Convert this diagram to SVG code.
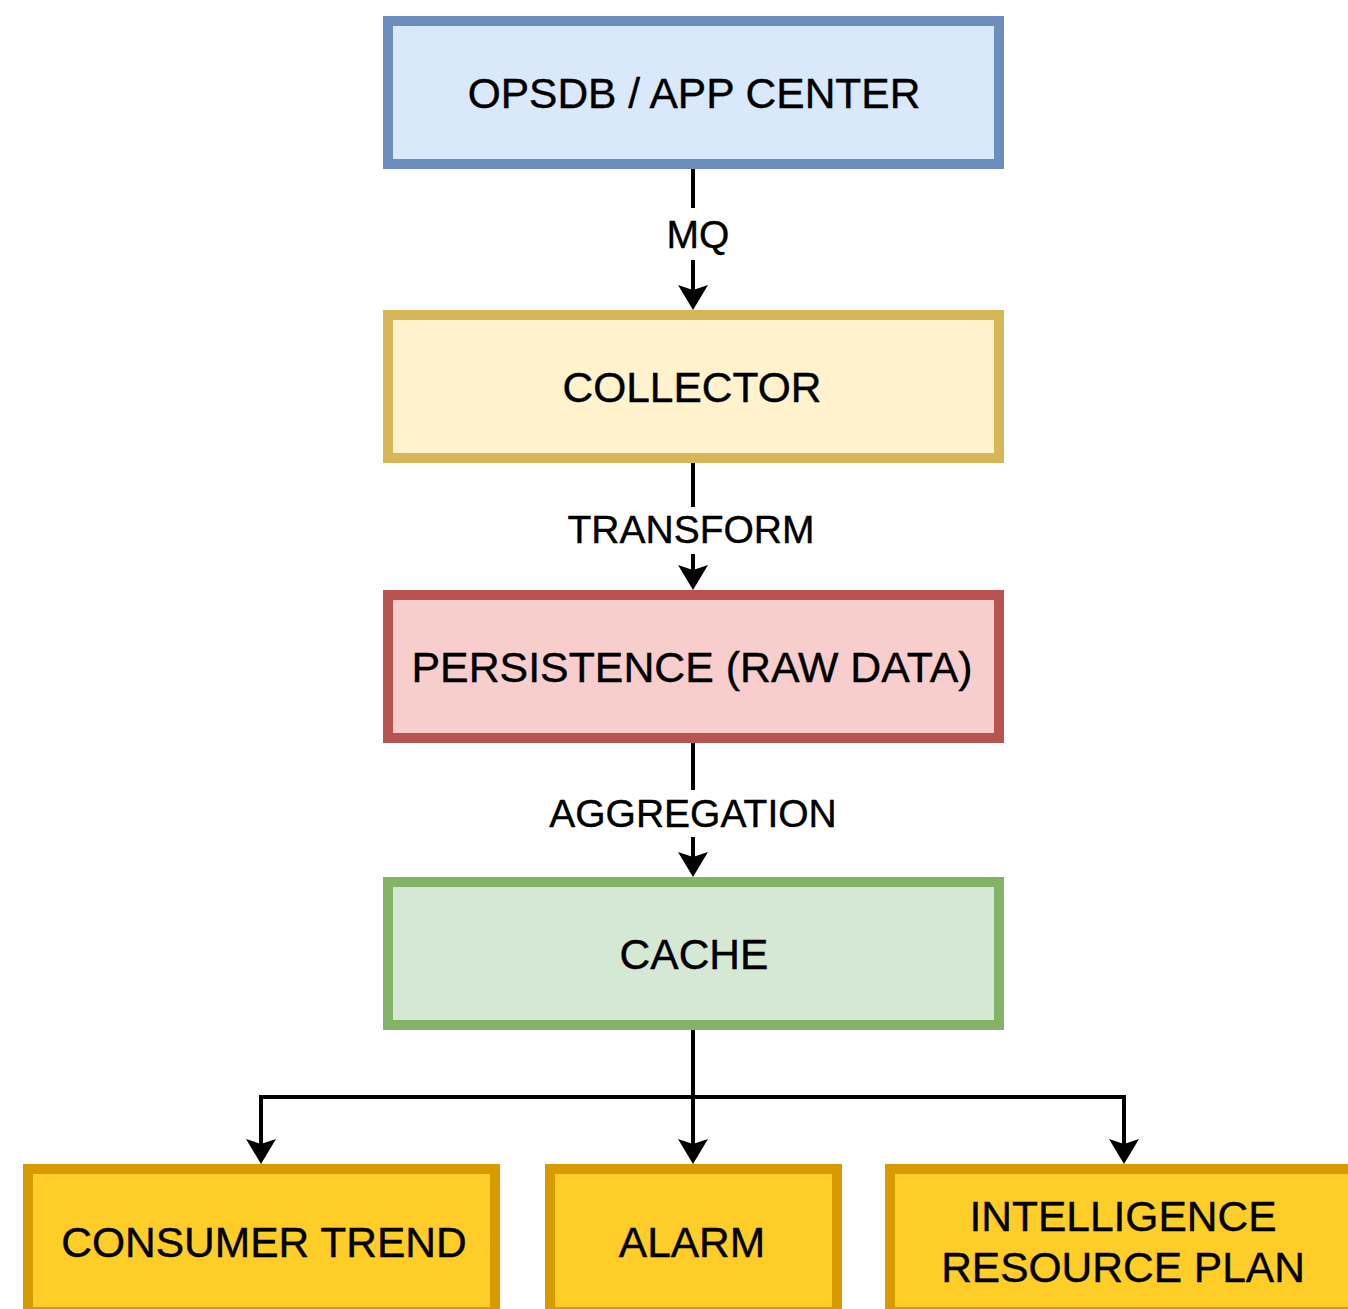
<svg xmlns="http://www.w3.org/2000/svg" width="1348" height="1309" viewBox="0 0 1348 1309">
  <style>
    .box { stroke-width: 10; }
    .blue { fill: #dae8fc; stroke: #6c8ebf; }
    .yellow { fill: #fff2cc; stroke: #d6b656; }
    .red { fill: #f8cecc; stroke: #b85450; }
    .green { fill: #d5e8d4; stroke: #82b366; }
    .orange { fill: #ffcd28; stroke: #d79b00; }
    .label { font-family: "Liberation Sans", Arial, sans-serif; font-size: 42.5px; fill: #000; stroke: #000; stroke-width: 0.4; text-anchor: middle; }
    .edge-label { font-family: "Liberation Sans", Arial, sans-serif; font-size: 39px; fill: #000; stroke: #000; stroke-width: 0.4; text-anchor: middle; }
    .wire { fill: none; stroke: #000; stroke-width: 4; }
    .tag-bg { fill: #fff; }
  </style>
  <defs>
    <marker id="arrow" viewBox="0 0 25 30" refX="5" refY="15" markerWidth="25" markerHeight="30" markerUnits="userSpaceOnUse" orient="auto">
      <path d="M0,0 L25,15 L0,30 L5,15 Z" fill="#000"/>
    </marker>
  </defs>

  <rect width="1348" height="1309" fill="#fff"/>

  <!-- connectors -->
  <g id="connectors">
    <path class="wire" d="M693,169 V290" marker-end="url(#arrow)"/>
    <path class="wire" d="M693,463 V570" marker-end="url(#arrow)"/>
    <path class="wire" d="M693,743 V857" marker-end="url(#arrow)"/>
    <path class="wire" d="M693,1030 V1144" marker-end="url(#arrow)"/>
    <path class="wire" d="M693,1097 H261 V1144" marker-end="url(#arrow)"/>
    <path class="wire" d="M693,1097 H1124 V1144" marker-end="url(#arrow)"/>

    <rect class="tag-bg" x="664" y="208" width="70" height="52"/>
    <text class="edge-label" x="698" y="248">MQ</text>

    <rect class="tag-bg" x="564" y="507" width="254" height="47"/>
    <text class="edge-label" x="691" y="543">TRANSFORM</text>

    <rect class="tag-bg" x="546" y="790" width="294" height="47"/>
    <text class="edge-label" x="693" y="827">AGGREGATION</text>
  </g>

  <g id="opsdb">
    <rect class="box blue" x="388" y="21" width="611" height="143"/>
    <text class="label" x="694" y="108">OPSDB / APP CENTER</text>
  </g>

  <g id="collector">
    <rect class="box yellow" x="388" y="315" width="611" height="143"/>
    <text class="label" x="692" y="402">COLLECTOR</text>
  </g>

  <g id="persistence">
    <rect class="box red" x="388" y="595" width="611" height="143"/>
    <text class="label" x="692" y="682" textLength="561" lengthAdjust="spacingAndGlyphs">PERSISTENCE (RAW DATA)</text>
  </g>

  <g id="cache">
    <rect class="box green" x="388" y="882" width="611" height="143"/>
    <text class="label" x="694" y="969">CACHE</text>
  </g>

  <g id="consumer-trend">
    <rect class="box orange" x="28" y="1169" width="467" height="143"/>
    <text class="label" x="264" y="1257">CONSUMER TREND</text>
  </g>

  <g id="alarm">
    <rect class="box orange" x="550" y="1169" width="287" height="143"/>
    <text class="label" x="692" y="1257">ALARM</text>
  </g>

  <g id="intelligence-resource-plan">
    <rect class="box orange" x="890" y="1169" width="466" height="143"/>
    <text class="label" x="1123" y="1231">INTELLIGENCE</text>
    <text class="label" x="1123" y="1282">RESOURCE PLAN</text>
  </g>
</svg>
